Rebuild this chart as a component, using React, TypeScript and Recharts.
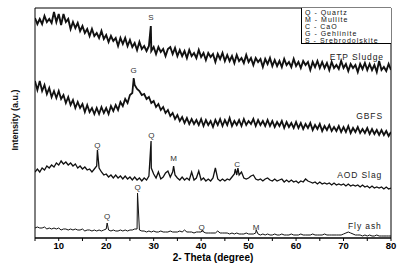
import React from 'react';
import { LineChart, Line, XAxis, YAxis, ReferenceArea, ReferenceDot } from 'recharts';

// 2-theta sampling grid (degrees)
const thetaGrid = [
  5, 5.5, 6, 6.5, 7, 7.5, 8, 8.5, 9, 9.5, 10, 10.5, 11, 11.5, 12, 12.5, 13, 13.5, 14, 14.5,
  15, 15.5, 16, 16.5, 17, 17.5, 18, 18.5, 19, 19.5, 20, 20.5, 21, 21.5, 22, 22.5, 23, 23.5, 24, 24.5,
  25, 25.5, 26, 26.5, 27, 27.5, 28, 28.5, 29, 29.5, 30, 30.5, 31, 31.5, 32, 32.5, 33, 33.5, 34, 34.5,
  35, 35.5, 36, 36.5, 37, 37.5, 38, 38.5, 39, 39.5, 40, 40.5, 41, 41.5, 42, 42.5, 43, 43.5, 44, 44.5,
  45, 45.5, 46, 46.5, 47, 47.5, 48, 48.5, 49, 49.5, 50, 50.5, 51, 51.5, 52, 52.5, 53, 53.5, 54, 54.5,
  55, 55.5, 56, 56.5, 57, 57.5, 58, 58.5, 59, 59.5, 60, 60.5, 61, 61.5, 62, 62.5, 63, 63.5, 64, 64.5,
  65, 65.5, 66, 66.5, 67, 67.5, 68, 68.5, 69, 69.5, 70, 70.5, 71, 71.5, 72, 72.5, 73, 73.5, 74, 74.5,
  75, 75.5, 76, 76.5, 77, 77.5, 78, 78.5, 79, 79.5, 80,
];

// Intensity (a.u., offset-stacked) on thetaGrid
const etpSludge = [
  220, 214, 219, 214, 222, 216, 219, 215, 226, 216, 224, 213, 224, 216, 219, 209, 216, 210, 215, 207,
  212, 205, 209, 202, 209, 202, 205, 200, 207, 199, 203, 196, 202, 197, 200, 192, 200, 194, 200, 192,
  198, 191, 195, 188, 196, 189, 192, 187, 192, 187, 191, 184, 191, 186, 189, 182, 189, 191, 184, 190,
  182, 188, 182, 187, 180, 188, 182, 185, 180, 188, 181, 185, 178, 185, 181, 184, 176, 184, 179, 185,
  177, 183, 177, 182, 175, 183, 177, 180, 175, 183, 176, 180, 173, 180, 176, 179, 171, 179, 174, 180,
  172, 178, 172, 177, 171, 179, 173, 176, 171, 179, 172, 176, 170, 177, 173, 176, 168, 176, 171, 177,
  170, 176, 170, 175, 168, 176, 170, 173, 169, 177, 170, 174, 167, 174, 170, 173, 166, 174, 169, 175,
  168, 174, 168, 173, 166, 177, 168, 171, 167, 174, 168,
];
const gbfs = [
  157, 148, 157, 147, 153, 144, 150, 141, 147, 140, 147, 139, 143, 135, 141, 133, 138, 130, 136, 130,
  134, 126, 133, 126, 130, 124, 130, 124, 131, 125, 130, 124, 132, 127, 133, 128, 136, 132, 139, 135,
  143, 145, 153, 149, 147, 143, 144, 139, 141, 135, 137, 131, 134, 128, 131, 125, 128, 122, 125, 119,
  123, 117, 121, 115, 120, 114, 119, 114, 118, 113, 119, 112, 118, 113, 117, 111, 118, 113, 119, 112,
  118, 113, 120, 112, 117, 113, 118, 112, 119, 113, 117, 114, 119, 112, 118, 113, 117, 112, 118, 112,
  117, 111, 116, 112, 117, 110, 116, 111, 115, 110, 116, 110, 115, 109, 114, 110, 115, 108, 113, 109,
  114, 107, 112, 108, 113, 107, 111, 107, 112, 106, 111, 106, 112, 105, 110, 106, 111, 105, 109, 105,
  110, 104, 109, 104, 108, 103, 108, 103, 107, 102, 106,
];
const aodSlag = [
  66, 69, 66, 70, 68, 72, 70, 73, 71, 75, 73, 77, 74, 76, 73, 75, 72, 74, 70, 72,
  69, 71, 68, 69, 66, 69, 72, 70, 66, 63, 64, 61, 63, 60, 63, 60, 62, 59, 62, 59,
  61, 58, 61, 58, 60, 57, 60, 58, 62, 70, 64, 60, 66, 59, 61, 65, 67, 61, 66, 63,
  60, 58, 61, 58, 60, 58, 66, 58, 60, 67, 58, 60, 57, 59, 57, 60, 70, 59, 57, 59,
  57, 59, 58, 61, 64, 63, 63, 66, 60, 59, 60, 62, 63, 59, 58, 59, 57, 59, 60, 58,
  57, 59, 57, 58, 59, 56, 58, 56, 58, 56, 57, 55, 57, 56, 59, 57, 56, 55, 56, 54,
  56, 54, 55, 54, 55, 53, 55, 53, 54, 53, 54, 52, 54, 52, 53, 52, 53, 51, 53, 51,
  52, 50, 52, 50, 51, 50, 51, 49, 51, 49, 50,
];
const flyAsh = [
  10, 11, 10, 10, 11, 9, 10, 9, 10, 9, 10, 8, 9, 9, 8, 9, 8, 9, 8, 8,
  9, 7, 8, 8, 7, 8, 7, 8, 7, 8, 9, 8, 7, 8, 7, 7, 8, 7, 8, 7,
  8, 8, 9, 9, 8, 7, 7, 6, 7, 6, 7, 6, 6, 7, 6, 6, 6, 7, 6, 6,
  6, 7, 6, 8, 6, 6, 6, 5, 6, 6, 6, 6, 5, 5, 5, 5, 5, 7, 5, 5,
  5, 5, 4, 5, 4, 5, 4, 4, 4, 5, 4, 4, 4, 5, 4, 3, 4, 3, 4, 3,
  3, 4, 3, 3, 4, 3, 3, 3, 4, 3, 3, 3, 4, 3, 3, 3, 3, 4, 3, 3,
  3, 3, 4, 3, 3, 3, 3, 3, 3, 3, 4, 5, 6, 5, 4, 3, 3, 3, 2, 3,
  2, 3, 2, 2, 3, 2, 2, 2, 2, 2, 2,
];

// Sharp reflections: [2-theta, intensity]
const etpPeaks = [[29.4, 212]];
const gbfsPeaks = [[25.8, 160]];
const aodPeaks = [[18.15, 88], [29.45, 97], [34.2, 72], [47.2, 69], [47.75, 70]];
const flyPeaks = [[20.2, 15], [26.6, 45], [40.3, 8], [51.6, 8]];

// Phase labels: [2-theta, intensity, letter]
const phaseLabels: [number, number, string][] = [
  [29.4, 221, 'S'],
  [25.8, 168, 'G'],
  [18.15, 93, 'Q'], [29.5, 103, 'Q'], [34.2, 80, 'M'], [47.6, 74, 'C'],
  [20.2, 22, 'Q'], [26.6, 51, 'Q'], [40.1, 11, 'Q'], [51.6, 11, 'M'],
];

// Sample names: [2-theta, intensity, name]
const sampleLabels: [number, number, string][] = [
  [72.8, 181, 'ETP Sludge'],
  [75.5, 122, 'GBFS'],
  [73.4, 63, 'AOD Slag'],
  [74.5, 12, 'Fly ash'],
];

const legendLines = ['Q - Quartz', 'M - Mullite', 'C - CaO', 'G - Gehlinite', 'S - Srebrodolskite'];
const xTicks = [5, 10, 15, 20, 25, 30, 35, 40, 45, 50, 55, 60, 65, 70, 75, 80];
const strokeWidths = [1.9, 1.8, 1.3, 1];

function build(values: number[], peaks: number[][]) {
  const pts = thetaGrid.map((t, i) => ({ x: t, y: values[i] }));
  peaks.forEach(([t, v]) => pts.push({ x: t, y: v }));
  pts.sort((a, b) => a.x - b.x);
  return pts;
}

const series = [
  build(etpSludge, etpPeaks),
  build(gbfs, gbfsPeaks),
  build(aodSlag, aodPeaks),
  build(flyAsh, flyPeaks),
];

const FONT = 'Arial, "Liberation Sans", sans-serif';

const renderTick = (props: any) => {
  const { x, y, payload } = props;
  if (payload.value % 10 !== 0) return <g />;
  return (
    <text x={x} y={y + 6} textAnchor="middle" fontSize={9.5} fontWeight="bold" fontFamily={FONT} fill="#000">
      {payload.value}
    </text>
  );
};

export default function App() {
  return (
    <div style={{ position: 'absolute', left: 0, top: 0, width: 408, height: 267, background: '#fff' }}>
      <LineChart width={408} height={267} margin={{ top: 8, right: 17, left: 35, bottom: 0 }}>
        <XAxis
          type="number"
          dataKey="x"
          domain={[5, 80]}
          ticks={xTicks}
          allowDataOverflow
          height={29}
          tickSize={3}
          axisLine={{ stroke: '#000' }}
          tickLine={{ stroke: '#000' }}
          tick={renderTick}
          interval={0}
          label={{ value: '2- Theta (degree)', position: 'insideBottom', offset: 6, fontSize: 10, fontWeight: 'bold', fill: '#000', fontFamily: FONT }}
        />
        <YAxis type="number" domain={[0, 230]} hide allowDataOverflow />
        <ReferenceArea x1={5} x2={80} y1={0} y2={230} fill="none" stroke="#000" strokeWidth={1} ifOverflow="visible" />
        {series.map((d, i) => (
          <Line
            key={i}
            data={d}
            dataKey="y"
            type="linear"
            stroke="#111"
            strokeWidth={strokeWidths[i]}
            dot={false}
            isAnimationActive={false}
          />
        ))}
        {phaseLabels.map(([t, v, s], i) => (
          <ReferenceDot key={'p' + i} x={t} y={v} r={0} fill="none" stroke="none"
            label={{ value: s, position: 'center', fontSize: 8, fill: '#333', fontFamily: FONT }} />
        ))}
        {sampleLabels.map(([t, v, s], i) => (
          <ReferenceDot key={'s' + i} x={t} y={v} r={0} fill="none" stroke="none"
            label={{ value: s, position: 'center', fontSize: 8.5, fill: '#222', fontFamily: FONT, letterSpacing: 0.9 }} />
        ))}
      </LineChart>
      <div style={{
        position: 'absolute', left: 301, top: 8, width: 90, height: 36, border: '1px solid #000',
        borderTop: 'none', borderRight: 'none', background: '#fff', fontFamily: FONT, fontSize: 7,
        lineHeight: '7px', paddingLeft: 3, paddingTop: 1, boxSizing: 'border-box', color: '#111', whiteSpace: 'nowrap',
        letterSpacing: 1,
      }}>
        {legendLines.map((l) => <div key={l} style={{ height: 7 }}>{l}</div>)}
      </div>
      <div style={{
        position: 'absolute', left: 15, top: 120, transform: 'translate(-50%, -50%) rotate(-90deg)',
        fontFamily: FONT, fontSize: 9, fontWeight: 'bold', whiteSpace: 'nowrap', color: '#111',
      }}>
        Intensity (a.u.)
      </div>
    </div>
  );
}
